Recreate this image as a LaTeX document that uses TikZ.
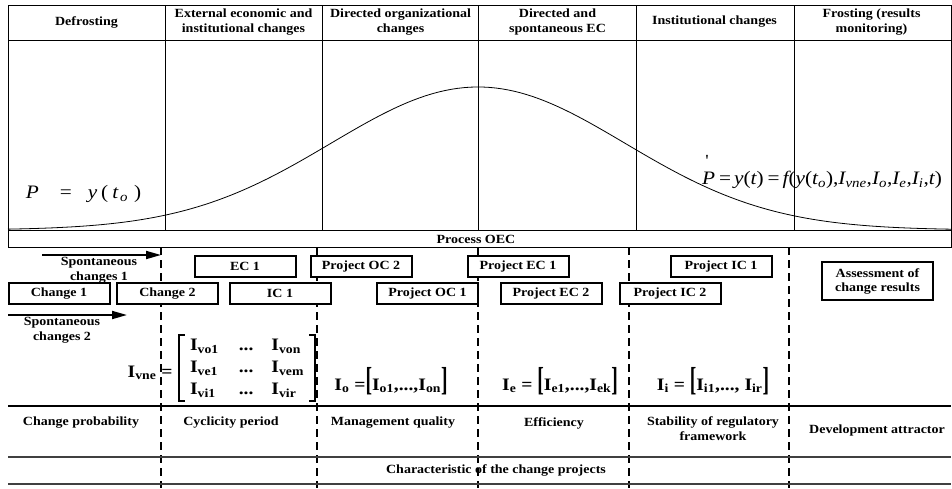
\documentclass[tikz,border=0pt]{standalone}
\usepackage{fontspec}
\usepackage{graphicx}
\setmainfont{Liberation Serif}[FakeStretch=1.12]
\usetikzlibrary{arrows.meta}

\newcommand{\tbrk}[1]{\scalebox{1}[1.9]{#1}}

\begin{document}
\begin{tikzpicture}[x=1pt,y=-1pt,>={Triangle[length=15pt,width=8pt]},node distance=157pt,
	hdr/.style={font=\fontsize{12.5}{15}\selectfont\bfseries,align=center},
	chbox/.style={draw,line width=2pt,fill=white,minimum width=101pt,minimum height=21pt,inner sep=1pt,font=\fontsize{12.5}{14}\selectfont\bfseries},
	frm/.style={font=\fontsize{19}{21}\selectfont},
	idx/.style={font=\fontsize{17.5}{22}\selectfont\bfseries},
	gline/.style={line width=0.9pt},
	cut/.style={line width=1.1pt,dash pattern=on 8pt off 5pt}]

\useasboundingbox (0,0) rectangle (952,488);

\draw[gline] (8,5) rectangle (951,247);
\draw[gline] (8,40) -- (951,40) (8,230) -- (951,230);
\foreach \xc in {165,322,478,636,794}
	\draw[gline] (\xc,5) -- (\xc,230);
\foreach \xc in {161,317,478,629,789}
	\draw[cut] (\xc,247) -- (\xc,488);
\draw[line width=1.3pt] (8,406) -- (951,406);
\draw[line width=1.3pt,black!75] (8,457) -- (951,457) (8,484) -- (951,484);

\draw[line width=0.8pt] plot[domain=8:951,samples=150] (\x,{230-143*exp(-0.5*((\x-478)/147)^2)});

\node[hdr]	(defr)	at (86.5,22)		{Defrosting};
\node[hdr]	(extc)	[right of=defr]	{External economic and\\institutional changes};
\node[hdr]	(dirc)	[right of=extc]	{Directed organizational\\changes};
\node[hdr]	(dspc)	[right of=dirc]	{Directed and\\spontaneous EC};
\node[hdr]	(inst)	[right of=dspc]	{Institutional changes};
\node[hdr]	(frst)	[right of=inst]	{Frosting (results\\monitoring)};

\node[frm]	(py0)	at (83.5,194)	{\itshape P\hspace{21pt}\upshape=\hspace{16pt}\itshape y\hspace{4pt}\upshape(\hspace{4pt}\itshape t\hspace{2pt}\textsubscript{o}\hspace{6pt}\upshape)};
\node[frm]	(pyt)	at (822,172)	{\itshape P\llap{\raisebox{0.95em}{\upshape\fontsize{17}{17}\selectfont\textquotesingle}\hspace{0.35em}}\hspace{4pt}\upshape=\hspace{3pt}\itshape y\upshape(\itshape t\upshape)\hspace{4pt}=\hspace{3pt}\itshape f\upshape(\itshape y\upshape(\itshape t\textsubscript{o}\upshape),\itshape I\textsubscript{vne}\upshape,\itshape I\textsubscript{o}\upshape,\itshape I\textsubscript{e}\upshape,\itshape I\textsubscript{i}\upshape,\itshape t\upshape)};

\node[hdr]	(oec)	at (476,239)	{Process OEC};

\node[hdr]	(sp1)	at (99,270)	{Spontaneous\\changes 1};
\node[hdr]	(sp2)	at (62,330)	{Spontaneous\\changes 2};

\node[chbox]	(ec1)	at (245,266)	{EC 1};
\node[chbox]	(poc2)	at (361,266)	{Project OC 2};
\node[chbox]	(pec1)	at (518,266)	{Project EC 1};
\node[chbox]	(pic1)	at (721,266)	{Project IC 1};
\node[chbox,minimum width=111pt,minimum height=38pt,align=center]	(asmt)	at (877.5,281)	{Assessment of\\change results};
\node[chbox]	(ch1)	at (59,293.5)	{Change 1};
\node[chbox]	(ch2)	at (167.5,293.5)	{Change 2};
\node[chbox]	(ic1)	at (280,293.5)	{IC 1};
\node[chbox]	(poc1)	at (427.5,293.5)	{Project OC 1};
\node[chbox]	(pec2)	at (551,293.5)	{Project EC 2};
\node[chbox]	(pic2)	at (670,293.5)	{Project IC 2};

\coordinate (s1a) at (42,255);
\coordinate (s1b) at (161,255);
\coordinate (s2a) at (8,315);
\coordinate (s2b) at (127,315);
\path[->,line width=1.8pt] (s1a) edge (s1b)
	(s2a) edge (s2b);

\node[idx,inner xsep=0pt,inner ysep=0pt,minimum width=136pt,minimum height=64pt]	(mat)	at (247,368)	{\begin{tabular}{@{}l@{\hspace{20pt}}c@{\hspace{18pt}}l@{}}I\textsubscript{vo1} & ... & I\textsubscript{von}\\I\textsubscript{ve1} & ... & I\textsubscript{vem}\\I\textsubscript{vi1} & ... & I\textsubscript{vir}\end{tabular}};
\node[idx,anchor=east]	(ivne)	at (176,373)	{I\textsubscript{vne} =};
\draw[line width=1.8pt] (mat.north west) ++(6,0) -- (mat.north west) -- (mat.south west) -- ++(6,0)
	(mat.north east) ++(-6,0) -- (mat.north east) -- (mat.south east) -- ++(-6,0);
\node[idx]	(io)	at (391,381)	{I\textsubscript{o} =\tbrk{[}I\textsubscript{o1},...,I\textsubscript{on}\tbrk{]}};
\node[idx]	(ie)	at (560,381)	{I\textsubscript{e} = \tbrk{[}I\textsubscript{e1},...,I\textsubscript{ek}\tbrk{]}};
\node[idx]	(ii)	at (713,381)	{I\textsubscript{i} = \tbrk{[}I\textsubscript{i1},..., I\textsubscript{ir}\tbrk{]}};

\node[hdr]	(prob)	at (81,423)	{Change probability};
\node[hdr]	(cycl)	at (231,423)	{Cyclicity period};
\node[hdr]	(mgmt)	at (393,423)	{Management quality};
\node[hdr]	(effc)	at (554,423)	{Efficiency};
\node[hdr]	(stab)	at (713,428.5)	{Stability of regulatory\\framework};
\node[hdr]	(attr)	at (877,430)	{Development attractor};
\node[hdr]	(chpr)	at (496,470)	{Characteristic of the change projects};

\end{tikzpicture}
\end{document}
